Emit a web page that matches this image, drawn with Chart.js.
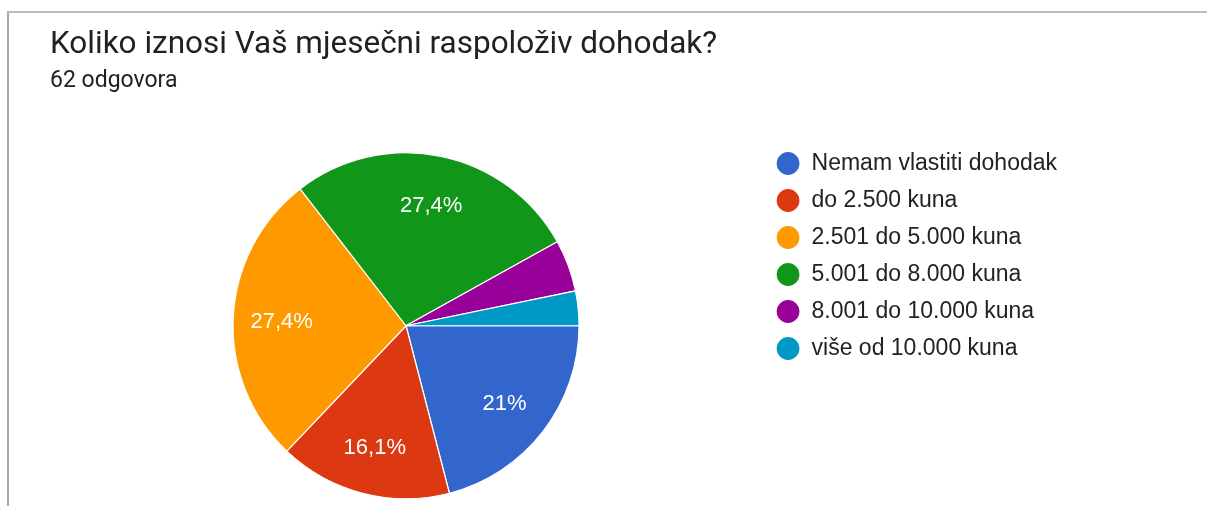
<!DOCTYPE html>
<html>
<head>
<meta charset="utf-8">
<script src="https://cdn.jsdelivr.net/npm/chart.js@4"></script>
<style>
  html, body { margin: 0; padding: 0; width: 1207px; height: 506px; overflow: hidden; background: #ffffff; }
  #frame { position: absolute; left: 7px; top: 11px; width: 1300px; height: 700px;
           border-top: 2px solid #bdbdbd; border-left: 2px solid #a9a9a9; }
  #c { position: absolute; left: 0; top: 0; }
</style>
</head>
<body>
<div id="frame"></div>
<canvas id="c" width="1207" height="540"></canvas>
<script>
const questionTitle = 'Koliko iznosi Vaš mjesečni raspoloživ dohodak?';
const responseCount = '62 odgovora';
const categories = [
  'Nemam vlastiti dohodak',
  'do 2.500 kuna',
  '2.501 do 5.000 kuna',
  '5.001 do 8.000 kuna',
  '8.001 do 10.000 kuna',
  'više od 10.000 kuna'
];
const responses = [13, 10, 17, 17, 3, 2];
const sliceColors = ['#3366cc', '#dc3912', '#ff9900', '#109618', '#990099', '#0099c6'];

function pctText(v, total) {
  const p = Math.round(v / total * 1000) / 10;
  return String(p).replace('.', ',') + '%';
}

const sliceLabels = {
  id: 'sliceLabels',
  afterDatasetsDraw(chart) {
    const ctx = chart.ctx;
    const meta = chart.getDatasetMeta(0);
    const data = chart.data.datasets[0].data;
    const total = data.reduce((a, b) => a + b, 0);
    ctx.save();
    ctx.fillStyle = '#ffffff';
    ctx.font = '22px "Liberation Sans", Arial, sans-serif';
    ctx.textAlign = 'center';
    ctx.textBaseline = 'middle';
    meta.data.forEach((arc, i) => {
      if (data[i] / total < 0.1) return;
      const p = arc.getProps(['x', 'y', 'startAngle', 'endAngle', 'outerRadius'], true);
      const mid = (p.startAngle + p.endAngle) / 2;
      const r = p.outerRadius * 0.72;
      ctx.fillText(pctText(data[i], total), p.x + Math.cos(mid) * r, p.y + Math.sin(mid) * r + 2);
    });
    ctx.restore();
  }
};

new Chart(document.getElementById('c'), {
  type: 'pie',
  data: {
    labels: categories,
    datasets: [{
      data: responses,
      backgroundColor: sliceColors,
      borderColor: '#ffffff',
      borderWidth: 1.2
    }]
  },
  options: {
    responsive: false,
    animation: false,
    rotation: 90,
    radius: 173,
    layout: { padding: { left: 50, right: 140, top: 0, bottom: 26.5 } },
    plugins: {
      tooltip: { enabled: false },
      title: {
        display: true,
        text: questionTitle,
        align: 'start',
        color: '#202124',
        font: { family: 'Roboto', size: 31.5, weight: 'normal', lineHeight: 1.2 },
        padding: { top: 26, bottom: 0 }
      },
      subtitle: {
        display: true,
        text: responseCount,
        align: 'start',
        color: '#202124',
        font: { family: 'Roboto', size: 23, weight: 'normal', lineHeight: 1.2 },
        padding: { top: 3.4, bottom: 43.2 }
      },
      legend: {
        position: 'right',
        align: 'start',
        fullSize: false,
        labels: {
          usePointStyle: true,
          pointStyle: 'circle',
          pointStyleWidth: 24,
          boxHeight: 17,
          padding: 14,
          color: '#222222',
          font: { family: '"Liberation Sans", Arial, sans-serif', size: 23 }
        }
      }
    }
  },
  plugins: [sliceLabels]
});
</script>
</body>
</html>
